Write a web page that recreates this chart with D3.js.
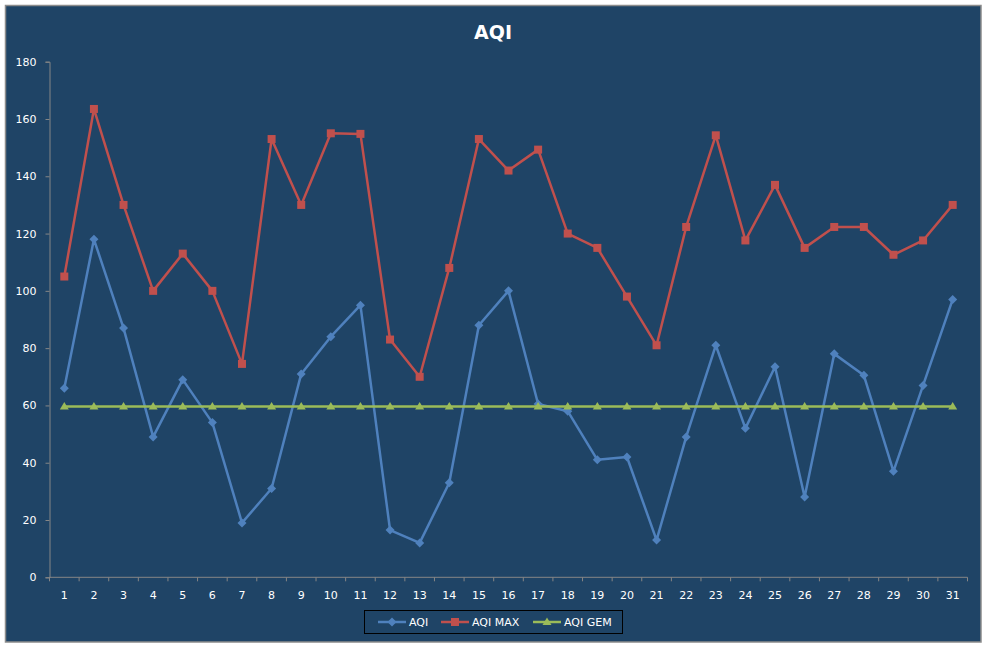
<!DOCTYPE html>
<html>
<head>
<meta charset="utf-8">
<title>AQI</title>
<script src="https://cdn.jsdelivr.net/npm/d3@7"></script>
<style>
  body { margin: 0; background: #fff; }
  text { font-family: "DejaVu Sans", Verdana, sans-serif; }
</style>
</head>
<body>
<script>
// days of the month
var days = [1, 2, 3, 4, 5, 6, 7, 8, 9, 10, 11, 12, 13, 14, 15, 16, 17, 18, 19, 20,
            21, 22, 23, 24, 25, 26, 27, 28, 29, 30, 31];
// series
var aqi = [66, 118, 87, 49, 69, 54, 19, 31, 71, 84, 95, 16.5, 12, 33, 88, 100, 60.5, 58, 41, 42,
           13, 49, 81, 52, 73.5, 28, 78, 70.5, 37, 67, 97];
var aqiMax = [105, 163.5, 130, 100, 113, 100, 74.5, 153, 130, 155, 154.8, 83, 70, 108, 153, 142, 149.3, 120, 115, 98,
              81, 122.3, 154.3, 117.6, 137, 115, 122.3, 122.3, 112.6, 117.6, 130];
var aqiGem = [59.6, 59.6, 59.6, 59.6, 59.6, 59.6, 59.6, 59.6, 59.6, 59.6, 59.6, 59.6, 59.6, 59.6, 59.6, 59.6,
              59.6, 59.6, 59.6, 59.6, 59.6, 59.6, 59.6, 59.6, 59.6, 59.6, 59.6, 59.6, 59.6, 59.6, 59.6];
var yTicks = [0, 20, 40, 60, 80, 100, 120, 140, 160, 180];
var seriesNames = ["AQI", "AQI MAX", "AQI GEM"];

var w = 987, h = 648;
var plotL = 49.5, plotR = 967.5, plotT = 61.7, plotB = 577.3;

var colors = { "AQI": "#4f81bd", "AQI MAX": "#c0504d", "AQI GEM": "#9bbb59" };
var axisColor = "#868686";

var svg = d3.select("body").append("svg")
    .attr("width", w)
    .attr("height", h);

// chart background + border
svg.append("rect")
    .attr("x", 5.5).attr("y", 5.5)
    .attr("width", 975.5).attr("height", 636.5)
    .attr("fill", "#1f4466")
    .attr("stroke", "#8c8c8c")
    .attr("stroke-width", 1.5);

svg.append("text")
    .attr("x", 493).attr("y", 39)
    .attr("text-anchor", "middle")
    .attr("fill", "#fff")
    .attr("font-size", 19)
    .attr("font-weight", "bold")
    .text("AQI");

var x = d3.scaleBand().domain(days).range([plotL, plotR]).padding(0);
var y = d3.scaleLinear().domain([0, 180]).range([plotB, plotT]);
function cx(d) { return x(d) + x.bandwidth() / 2; }

// y axis
var yAxis = svg.append("g")
    .attr("transform", "translate(" + plotL + ",0)")
    .call(d3.axisLeft(y).tickValues(yTicks).tickSize(4).tickPadding(9));
yAxis.select(".domain").attr("stroke", axisColor);
yAxis.selectAll(".tick line").attr("stroke", axisColor);
yAxis.selectAll("text").attr("fill", "#fff").attr("font-size", 11)
    .style("font-family", "DejaVu Sans, sans-serif");

// x axis, labels centred on the bands
var xAxis = svg.append("g")
    .attr("transform", "translate(0," + plotB + ")")
    .call(d3.axisBottom(x).tickSize(0).tickPadding(14));
xAxis.select(".domain").remove();
xAxis.selectAll("text").attr("fill", "#fff").attr("font-size", 11)
    .style("font-family", "DejaVu Sans, sans-serif");
svg.append("line")
    .attr("x1", plotL).attr("x2", plotR)
    .attr("y1", plotB).attr("y2", plotB)
    .attr("stroke", axisColor);
// tick marks between categories
svg.append("g").selectAll("line")
    .data(days.concat([null]))
    .enter().append("line")
    .attr("x1", function (d) { return d === null ? plotR : x(d); })
    .attr("x2", function (d) { return d === null ? plotR : x(d); })
    .attr("y1", plotB).attr("y2", plotB + 4)
    .attr("stroke", axisColor);

var line = d3.line()
    .x(function (d, i) { return cx(days[i]); })
    .y(function (d) { return y(d); });

var seriesData = { "AQI": aqi, "AQI MAX": aqiMax, "AQI GEM": aqiGem };

function marker(g, name, px, py) {
    var c = colors[name];
    if (name === "AQI") {
        g.append("path")
            .attr("d", "M" + px + "," + (py - 4.5) + "L" + (px + 4.5) + "," + py + "L" + px + "," + (py + 4.5) + "L" + (px - 4.5) + "," + py + "Z")
            .attr("fill", c);
    } else if (name === "AQI MAX") {
        g.append("rect")
            .attr("x", px - 4).attr("y", py - 4)
            .attr("width", 8).attr("height", 8)
            .attr("fill", c);
    } else {
        g.append("path")
            .attr("d", "M" + px + "," + (py - 4.5) + "L" + (px + 4.5) + "," + (py + 3) + "L" + (px - 4.5) + "," + (py + 3) + "Z")
            .attr("fill", c);
    }
}

seriesNames.forEach(function (name) {
    var vals = seriesData[name];
    var g = svg.append("g");
    g.append("path")
        .datum(vals)
        .attr("d", line)
        .attr("fill", "none")
        .attr("stroke", colors[name])
        .attr("stroke-width", 2.5)
        .attr("stroke-linejoin", "round");
    vals.forEach(function (v, i) {
        marker(g, name, cx(days[i]), y(v));
    });
});

// legend
var lg = svg.append("g");
lg.append("rect")
    .attr("x", 364.5).attr("y", 610.5)
    .attr("width", 258).attr("height", 23)
    .attr("fill", "none")
    .attr("stroke", "#000")
    .attr("stroke-width", 1);
var legendX = [378, 441, 533];
seriesNames.forEach(function (name, i) {
    var lx = legendX[i];
    lg.append("line")
        .attr("x1", lx).attr("x2", lx + 28)
        .attr("y1", 622).attr("y2", 622)
        .attr("stroke", colors[name])
        .attr("stroke-width", 2.5);
    marker(lg, name, lx + 14, 622);
    lg.append("text")
        .attr("x", lx + 31).attr("y", 626)
        .attr("fill", "#fff")
        .attr("font-size", 11)
        .text(name);
});
</script>
</body>
</html>
